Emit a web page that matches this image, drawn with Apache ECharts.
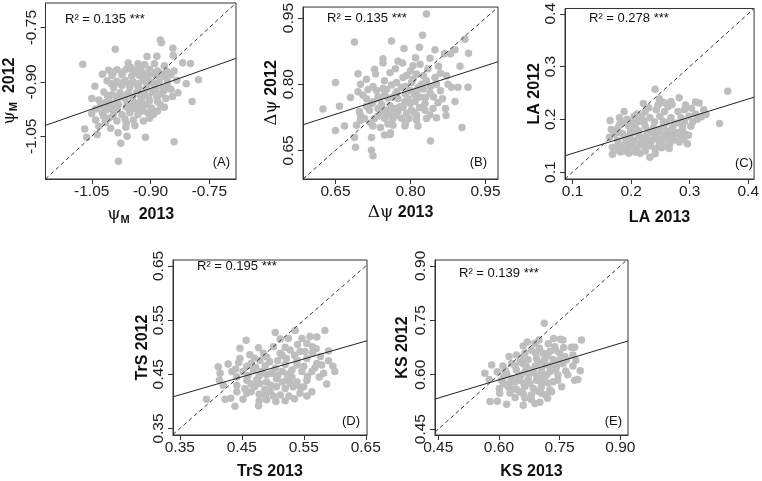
<!DOCTYPE html>
<html><head><meta charset="utf-8">
<script src="https://cdn.jsdelivr.net/npm/echarts@6/dist/echarts.min.js"></script>
<style>html,body{margin:0;padding:0;background:#fff}#c{width:762px;height:481px}</style>
</head><body><div id="c"></div>
<script>
// ---------- data ----------
const ticksA = [-1.05, -0.90, -0.75];
const ticksB = [0.65, 0.80, 0.95];
const ticksC = [0.1, 0.2, 0.3, 0.4];
const ticksD = [0.35, 0.45, 0.55, 0.65];
const ticksE = [0.45, 0.60, 0.75, 0.90];

const r2Labels = ['R² = 0.135 ***', 'R² = 0.135 ***', 'R² = 0.278 ***', 'R² = 0.195 ***', 'R² = 0.139 ***'];
const panelLetters = ['(A)', '(B)', '(C)', '(D)', '(E)'];

// fitted regression line end points [x, y]
const fitA = [[-1.168, -1.020], [-0.682, -0.835]];
const fitB = [[0.585, 0.708], [0.975, 0.851]];
const fitC = [[0.087, 0.131], [0.410, 0.242]];
const fitD = [[0.339, 0.4085], [0.652, 0.512]];
const fitE = [[0.442, 0.533], [0.919, 0.693]];

// psi_M : [2013, 2012]
const psiM = [
[-0.875,-0.784],[-0.872,-0.792],[-0.990,-0.810],[-0.843,-0.807],[-0.909,-0.830],[-0.884,-0.829],[-0.842,-0.826],
[-1.073,-0.851],[-0.957,-0.848],[-0.932,-0.850],[-0.915,-0.852],[-0.890,-0.850],[-0.865,-0.855],[-0.818,-0.847],[-0.798,-0.849],
[-1.007,-0.868],[-0.986,-0.866],[-0.961,-0.864],[-0.940,-0.868],[-0.923,-0.872],[-0.903,-0.865],[-0.882,-0.870],[-0.857,-0.872],[-0.840,-0.870],
[-1.023,-0.879],[-0.998,-0.882],[-0.973,-0.880],[-0.948,-0.884],[-0.928,-0.882],[-0.907,-0.886],[-0.886,-0.882],[-0.865,-0.885],[-0.848,-0.880],
[-1.011,-0.897],[-0.986,-0.899],[-0.965,-0.895],[-0.944,-0.900],[-0.919,-0.897],[-0.898,-0.900],[-0.878,-0.897],[-0.857,-0.899],[-0.833,-0.895],[-0.809,-0.905],[-0.778,-0.894],
[-1.042,-0.912],[-0.994,-0.915],[-0.973,-0.910],[-0.953,-0.915],[-0.932,-0.912],[-0.911,-0.918],[-0.890,-0.912],[-0.869,-0.915],[-0.848,-0.920],
[-1.019,-0.928],[-0.998,-0.935],[-0.978,-0.930],[-0.957,-0.932],[-0.936,-0.930],[-0.915,-0.935],[-0.894,-0.928],[-0.873,-0.933],[-0.844,-0.940],
[-1.050,-0.946],[-1.032,-0.950],[-1.007,-0.948],[-0.986,-0.952],[-0.965,-0.946],[-0.944,-0.955],[-0.923,-0.948],[-0.903,-0.952],[-0.882,-0.955],[-0.861,-0.946],[-0.794,-0.954],
[-1.027,-0.965],[-1.002,-0.968],[-0.982,-0.962],[-0.961,-0.970],[-0.940,-0.965],[-0.919,-0.968],[-0.898,-0.972],[-0.865,-0.970],
[-1.050,-0.988],[-1.023,-0.985],[-0.994,-0.982],[-0.973,-0.990],[-0.953,-0.985],[-0.932,-0.990],[-0.907,-0.985],[-0.882,-0.980],
[-1.040,-1.005],[-1.007,-1.000],[-0.986,-1.008],[-0.965,-1.003],[-0.944,-1.005],[-0.903,-1.000],
[-1.068,-1.030],[-1.032,-1.022],[-1.002,-1.028],[-0.963,-1.025],[-0.940,-1.020],
[-1.063,-1.053],[-1.036,-1.045],[-0.913,-1.053],[-0.976,-1.069],[-0.840,-1.065],[-0.982,-1.119],
[-0.925,-0.860],[-0.900,-0.877],[-0.950,-0.905],[-0.927,-0.922],[-0.905,-0.940],[-0.960,-0.958],[-0.935,-0.975],[-0.975,-0.940],[-0.888,-0.905],[-0.912,-0.893],
[-0.995,-0.873],[-0.970,-0.872],[-0.945,-0.876],[-0.918,-0.878],[-0.895,-0.874],[-0.873,-0.877],
[-1.000,-0.905],[-0.978,-0.903],[-0.955,-0.907],[-0.930,-0.905],[-0.908,-0.907],[-0.887,-0.922],[-0.866,-0.925],
[-1.010,-0.938],[-0.988,-0.942],[-0.968,-0.938],[-0.946,-0.941],[-0.925,-0.940],[-0.884,-0.943],
[-1.015,-0.958],[-0.993,-0.960],[-0.952,-0.962],[-0.930,-0.958],[-0.910,-0.962],[-0.875,-0.962],
[-1.040,-0.975],[-1.012,-0.977],[-0.985,-0.975],[-0.950,-0.976],[-0.922,-0.980],[-0.893,-0.990],
[-1.020,-0.995],[-0.996,-0.995],[-0.962,-1.014],[-0.918,-1.008],[-0.983,-1.040],[-1.015,-1.012],[-0.855,-0.915],[-0.830,-0.930],[-0.950,-0.860],[-0.960,-1.050]
];

// delta psi : [2013, 2012]
const dPsi = [
[0.832,0.959],[0.824,0.911],[0.688,0.896],[0.762,0.898],[0.818,0.884],[0.909,0.902],[0.849,0.878],[0.889,0.878],[0.787,0.881],[0.916,0.870],
[0.839,0.859],[0.868,0.869],[0.880,0.869],[0.745,0.848],[0.775,0.852],[0.784,0.848],[0.805,0.842],[0.819,0.845],[0.856,0.841],[0.899,0.841],
[0.728,0.834],[0.695,0.824],[0.730,0.823],[0.759,0.826],[0.792,0.820],[0.812,0.823],[0.826,0.819],[0.849,0.815],[0.872,0.819],
[0.712,0.811],[0.748,0.808],[0.772,0.804],[0.802,0.804],[0.822,0.800],[0.852,0.800],[0.650,0.804],
[0.695,0.783],[0.715,0.788],[0.732,0.786],[0.752,0.788],[0.772,0.783],[0.799,0.786],[0.812,0.782],[0.839,0.780],[0.882,0.793],[0.895,0.793],[0.915,0.793],
[0.712,0.767],[0.735,0.771],[0.755,0.769],[0.775,0.767],[0.795,0.767],[0.819,0.771],[0.846,0.771],[0.864,0.767],
[0.658,0.750],[0.625,0.744],[0.722,0.756],[0.742,0.754],[0.759,0.752],[0.779,0.749],[0.799,0.756],[0.818,0.747],[0.889,0.761],
[0.698,0.738],[0.718,0.741],[0.742,0.738],[0.759,0.734],[0.775,0.738],[0.792,0.734],[0.812,0.730],[0.839,0.730],
[0.708,0.722],[0.728,0.722],[0.748,0.723],[0.765,0.722],[0.782,0.723],[0.812,0.719],[0.832,0.722],[0.852,0.724],[0.871,0.729],
[0.650,0.695],[0.668,0.705],[0.692,0.707],[0.725,0.705],[0.740,0.702],[0.765,0.707],[0.789,0.705],[0.903,0.702],
[0.688,0.679],[0.722,0.679],[0.748,0.685],[0.759,0.686],[0.840,0.671],[0.690,0.657],[0.722,0.650],[0.725,0.638],
[0.785,0.815],[0.805,0.811],[0.832,0.808],[0.782,0.793],[0.826,0.789],[0.765,0.771],[0.789,0.760],[0.809,0.761],[0.829,0.756],
[0.768,0.745],[0.802,0.741],[0.752,0.727],[0.797,0.722],[0.829,0.741],[0.738,0.767],
[0.700,0.800],[0.725,0.795],[0.745,0.790],[0.762,0.798],[0.790,0.795],[0.815,0.792],[0.840,0.795],[0.860,0.785],
[0.705,0.775],[0.725,0.760],[0.748,0.775],[0.770,0.778],[0.790,0.778],[0.808,0.776],[0.830,0.770],[0.855,0.758],
[0.712,0.750],[0.735,0.745],[0.752,0.740],[0.785,0.748],[0.808,0.735],[0.845,0.745],[0.870,0.745],
[0.700,0.730],[0.735,0.728],[0.770,0.728],[0.790,0.712],[0.755,0.710],[0.720,0.712],[0.800,0.830],[0.835,0.835],[0.770,0.835],[0.860,0.825],[0.875,0.800],[0.680,0.770],[0.700,0.718],[0.760,0.690],[0.815,0.705],[0.745,0.858],[0.810,0.860]
];

// LA : [2013, 2012]
const leafArea = [
[0.365,0.253],[0.241,0.257],[0.268,0.234],[0.282,0.241],[0.248,0.239],[0.221,0.230],[0.310,0.233],[0.316,0.231],[0.293,0.227],[0.263,0.224],
[0.324,0.218],[0.328,0.209],[0.313,0.200],[0.351,0.192],[0.188,0.215],[0.205,0.206],[0.224,0.215],[0.243,0.218],[0.257,0.215],[0.280,0.215],
[0.291,0.218],[0.303,0.221],[0.180,0.203],[0.193,0.200],[0.213,0.196],[0.232,0.203],[0.249,0.206],[0.268,0.203],[0.285,0.203],[0.299,0.206],
[0.166,0.181],[0.180,0.190],[0.196,0.187],[0.207,0.184],[0.224,0.187],[0.238,0.184],[0.255,0.187],[0.271,0.185],[0.288,0.184],[0.302,0.187],
[0.171,0.172],[0.185,0.173],[0.199,0.172],[0.213,0.169],[0.227,0.172],[0.241,0.169],[0.257,0.171],[0.274,0.172],[0.291,0.173],
[0.163,0.166],[0.177,0.160],[0.191,0.157],[0.205,0.160],[0.218,0.157],[0.235,0.160],[0.252,0.157],[0.266,0.154],[0.282,0.157],[0.296,0.154],
[0.168,0.147],[0.182,0.144],[0.196,0.147],[0.210,0.144],[0.224,0.147],[0.241,0.144],[0.257,0.149],
[0.168,0.134],[0.182,0.138],[0.196,0.136],[0.207,0.138],[0.224,0.140],[0.241,0.135],[0.252,0.146],[0.232,0.128],[0.164,0.198],
[0.213,0.178],[0.229,0.178],[0.246,0.175],[0.263,0.178],[0.280,0.175],[0.218,0.165],[0.202,0.150],[0.227,0.154],[0.246,0.163],[0.263,0.166],
[0.185,0.150],[0.199,0.178],[0.218,0.206],[0.255,0.196],[0.274,0.193],[0.177,0.183],[0.246,0.227],[0.291,0.195],
[0.188,0.195],[0.203,0.193],[0.222,0.196],[0.240,0.195],[0.260,0.194],[0.282,0.193],[0.175,0.175],[0.190,0.166],[0.205,0.177],
[0.235,0.175],[0.250,0.182],[0.268,0.170],[0.285,0.167],[0.298,0.170],[0.195,0.160],[0.228,0.163],[0.258,0.164],[0.273,0.161],[0.290,0.162],
[0.178,0.152],[0.192,0.149],[0.215,0.152],[0.233,0.150],[0.248,0.153],[0.265,0.145],[0.188,0.140],[0.215,0.136],[0.176,0.142],[0.310,0.210],[0.305,0.195],[0.320,0.205],[0.270,0.228],[0.256,0.232],[0.230,0.222],[0.210,0.210]
];

// TrS : [2013, 2012]
const trS = [
[0.504,0.527],[0.536,0.531],[0.584,0.531],[0.571,0.519],[0.457,0.513],[0.477,0.499],[0.501,0.501],[0.525,0.516],[0.547,0.516],[0.555,0.507],
[0.564,0.501],[0.590,0.493],[0.447,0.479],[0.463,0.486],[0.485,0.489],[0.512,0.489],[0.528,0.495],[0.544,0.492],
[0.412,0.464],[0.428,0.469],[0.445,0.472],[0.465,0.470],[0.479,0.476],[0.495,0.473],[0.508,0.475],[0.522,0.479],[0.539,0.476],[0.555,0.479],[0.571,0.470],[0.579,0.467],[0.597,0.465],
[0.415,0.452],[0.434,0.455],[0.452,0.455],[0.469,0.458],[0.482,0.455],[0.498,0.452],[0.515,0.455],[0.531,0.458],[0.547,0.455],[0.563,0.455],[0.582,0.452],
[0.414,0.439],[0.442,0.445],[0.458,0.439],[0.474,0.440],[0.490,0.436],[0.506,0.442],[0.523,0.439],[0.539,0.436],[0.555,0.439],[0.550,0.427],
[0.442,0.430],[0.455,0.424],[0.471,0.427],[0.487,0.422],[0.506,0.427],[0.520,0.424],[0.533,0.427],
[0.442,0.418],[0.458,0.415],[0.478,0.413],[0.496,0.418],[0.512,0.412],[0.526,0.410],[0.544,0.415],[0.563,0.418],[0.587,0.432],
[0.393,0.404],[0.423,0.404],[0.432,0.406],[0.452,0.404],[0.478,0.401],[0.501,0.410],[0.439,0.391],[0.477,0.392],[0.490,0.403],[0.520,0.401],
[0.504,0.461],[0.490,0.449],[0.531,0.445],[0.515,0.436],[0.539,0.467],[0.479,0.433],[0.564,0.489],[0.577,0.483],[0.447,0.498],
[0.470,0.480],[0.490,0.482],[0.515,0.485],[0.535,0.485],[0.552,0.492],[0.570,0.497],[0.458,0.465],[0.472,0.463],[0.488,0.466],[0.520,0.468],[0.550,0.465],[0.568,0.462],
[0.440,0.460],[0.460,0.448],[0.478,0.447],[0.508,0.448],[0.523,0.450],[0.556,0.446],[0.575,0.445],[0.465,0.432],[0.497,0.430],[0.528,0.433],[0.545,0.425],
[0.465,0.418],[0.488,0.410],[0.505,0.400],[0.535,0.405],[0.555,0.410],[0.512,0.515],[0.540,0.505],[0.560,0.520],[0.520,0.500],[0.590,0.475],[0.600,0.455],[0.420,0.430]
];

// KS : [2013, 2012]
const kS = [
[0.712,0.742],[0.699,0.696],[0.752,0.698],[0.758,0.696],[0.804,0.696],[0.779,0.676],[0.787,0.676],[0.660,0.679],[0.722,0.685],[0.738,0.677],
[0.625,0.650],[0.643,0.654],[0.664,0.659],[0.680,0.668],[0.700,0.673],[0.726,0.664],[0.750,0.659],[0.763,0.650],[0.783,0.654],
[0.631,0.631],[0.652,0.636],[0.672,0.641],[0.693,0.645],[0.713,0.641],[0.734,0.642],[0.758,0.630],[0.783,0.624],[0.582,0.627],[0.610,0.624],
[0.565,0.604],[0.596,0.608],[0.619,0.604],[0.643,0.613],[0.664,0.608],[0.685,0.615],[0.705,0.611],[0.726,0.608],[0.746,0.599],[0.801,0.611],
[0.576,0.587],[0.606,0.585],[0.631,0.590],[0.652,0.585],[0.672,0.587],[0.693,0.585],[0.713,0.595],[0.734,0.581],[0.755,0.567],[0.787,0.585],[0.795,0.587],
[0.601,0.562],[0.623,0.567],[0.643,0.560],[0.664,0.567],[0.685,0.562],[0.705,0.567],[0.726,0.558],
[0.602,0.549],[0.627,0.550],[0.660,0.547],[0.680,0.544],[0.705,0.549],[0.730,0.553],
[0.578,0.526],[0.596,0.527],[0.619,0.519],[0.660,0.516],[0.689,0.521],[0.701,0.524],
[0.713,0.627],[0.668,0.622],[0.648,0.595],[0.693,0.599],[0.722,0.577],[0.676,0.576],[0.709,0.659],[0.689,0.687],[0.742,0.622],[0.767,0.641],[0.627,0.578],[0.664,0.536],
[0.690,0.660],[0.720,0.652],[0.740,0.668],[0.655,0.645],[0.700,0.632],[0.725,0.625],[0.750,0.640],[0.640,0.625],[0.660,0.630],[0.690,0.625],
[0.615,0.612],[0.655,0.600],[0.675,0.603],[0.700,0.598],[0.718,0.600],[0.740,0.612],[0.765,0.610],[0.612,0.595],[0.640,0.580],[0.662,0.575],[0.705,0.580],[0.745,0.585],
[0.612,0.575],[0.632,0.560],[0.652,0.553],[0.695,0.555],[0.715,0.545],[0.640,0.537],[0.680,0.532],[0.720,0.535],[0.770,0.600],[0.790,0.640],[0.760,0.675],[0.735,0.700],[0.670,0.690]
];

// ---------- layout ----------
const FONT = 'Liberation Sans, Arial, Helvetica, sans-serif';
const GREEK = 'DejaVu Serif, Liberation Serif, serif';
const panels = [
  {grid:{left:43, top:3, width:193, height:176}, xr:[-1.168,-0.682], yr:[-1.168,-0.682], ticks:ticksA, dec:2, pts:psiM, fit:fitA,
   xname:'{g|ψ}{s|M}{b|  2013}', yname:'{g|ψ}{s|M}{b|  2012}', xgap:26, ygap:26, r2:[65,21], let:[230,164]},
  {grid:{left:303, top:3, width:195, height:176}, xr:[0.585,0.975], yr:[0.585,0.975], ticks:ticksB, dec:2, pts:dPsi, fit:fitB,
   xname:'{g|Δψ}{b| 2013}', yname:'{g|Δψ}{b| 2012}', xgap:25, ygap:20, r2:[327,20], let:[487,164]},
  {grid:{left:565, top:3, width:193, height:176}, xr:[0.087,0.410], yr:[0.087,0.410], ticks:ticksC, dec:1, pts:leafArea, fit:fitC,
   xname:'{b|LA 2013}', yname:'{b|LA 2012}', xgap:31, ygap:21, r2:[589,20], let:[753,165]},
  {grid:{left:173, top:260, width:194, height:176}, xr:[0.339,0.652], yr:[0.338,0.661], ticks:ticksD, dec:2, pts:trS, fit:fitD,
   xname:'{b|TrS 2013}', yname:'{b|TrS 2012}', xgap:29, ygap:21, r2:[197,268], let:[360,423]},
  {grid:{left:435, top:260, width:193, height:175}, xr:[0.442,0.919], yr:[0.434,0.916], ticks:ticksE, dec:2, pts:kS, fit:fitE,
   xname:'{b|KS 2013}', yname:'{b|KS 2012}', xgap:29, ygap:24, r2:[459,275], let:[622,423]}
];

const rich = {
  g:{fontFamily:GREEK, fontSize:17, fontWeight:'normal', color:'#111'},
  s:{fontFamily:FONT, fontSize:11, fontWeight:'bold', color:'#111', padding:[9,0,0,0]},
  b:{fontFamily:FONT, fontSize:16, fontWeight:'bold', color:'#111'}
};

function axis(p, isX) {
  return {
    type:'value', gridIndex:0, min:isX?p.xr[0]:p.yr[0], max:isX?p.xr[1]:p.yr[1],
    splitLine:{show:false},
    axisLine:{show:true, onZero:false, lineStyle:{color:'#333', width:1}},
    axisTick:{show:true, inside:false, length:5, customValues:p.ticks, lineStyle:{color:'#333', width:1}},
    axisLabel:{show:true, customValues:p.ticks, fontFamily:FONT, fontSize:15.5, color:'#222',
      margin:isX?5:6, rotate:isX?0:90, formatter:v=>Number(v).toFixed(p.dec), showMinLabel:true, showMaxLabel:true},
    name:isX?p.xname:p.yname, nameLocation:'middle', nameGap:isX?p.xgap:p.ygap,
    nameTextStyle:{rich:rich, fontFamily:FONT, fontSize:16, fontWeight:'bold', color:'#111'}
  };
}

const grid=[], xAxis=[], yAxis=[], series=[], graphic=[];
panels.forEach((p,i)=>{
  grid.push(Object.assign({show:true, borderColor:'#333', borderWidth:1, backgroundColor:'transparent', containLabel:false}, p.grid));
  const xa = axis(p,true); xa.gridIndex=i; xAxis.push(xa);
  const ya = axis(p,false); ya.gridIndex=i; yAxis.push(ya);
  series.push({type:'scatter', xAxisIndex:i, yAxisIndex:i, data:p.pts, symbolSize:7.5,
    itemStyle:{color:'#bebebe', opacity:1}, silent:true, z:2});
  series.push({type:'line', xAxisIndex:i, yAxisIndex:i, data:[[p.xr[0],p.xr[0]],[p.xr[1],p.xr[1]]], showSymbol:false, clip:true,
    lineStyle:{color:'#222', width:0.9, type:[4,3]}, silent:true, z:3, animation:false});
  series.push({type:'line', xAxisIndex:i, yAxisIndex:i, data:p.fit, showSymbol:false, clip:true,
    lineStyle:{color:'#222', width:1}, silent:true, z:4, animation:false});
  graphic.push({type:'text', left:p.r2[0], top:p.r2[1]-8, style:{text:r2Labels[i], font:'13px '+FONT, fill:'#111'}});
  graphic.push({type:'text', right:762-p.let[0], top:p.let[1]-8, style:{text:panelLetters[i], font:'13px '+FONT, fill:'#111'}});
});

const chart = echarts.init(document.getElementById('c'), null, {renderer:'canvas'});
chart.setOption({animation:false, backgroundColor:'#fff', grid, xAxis, yAxis, series, graphic});
</script></body></html>
